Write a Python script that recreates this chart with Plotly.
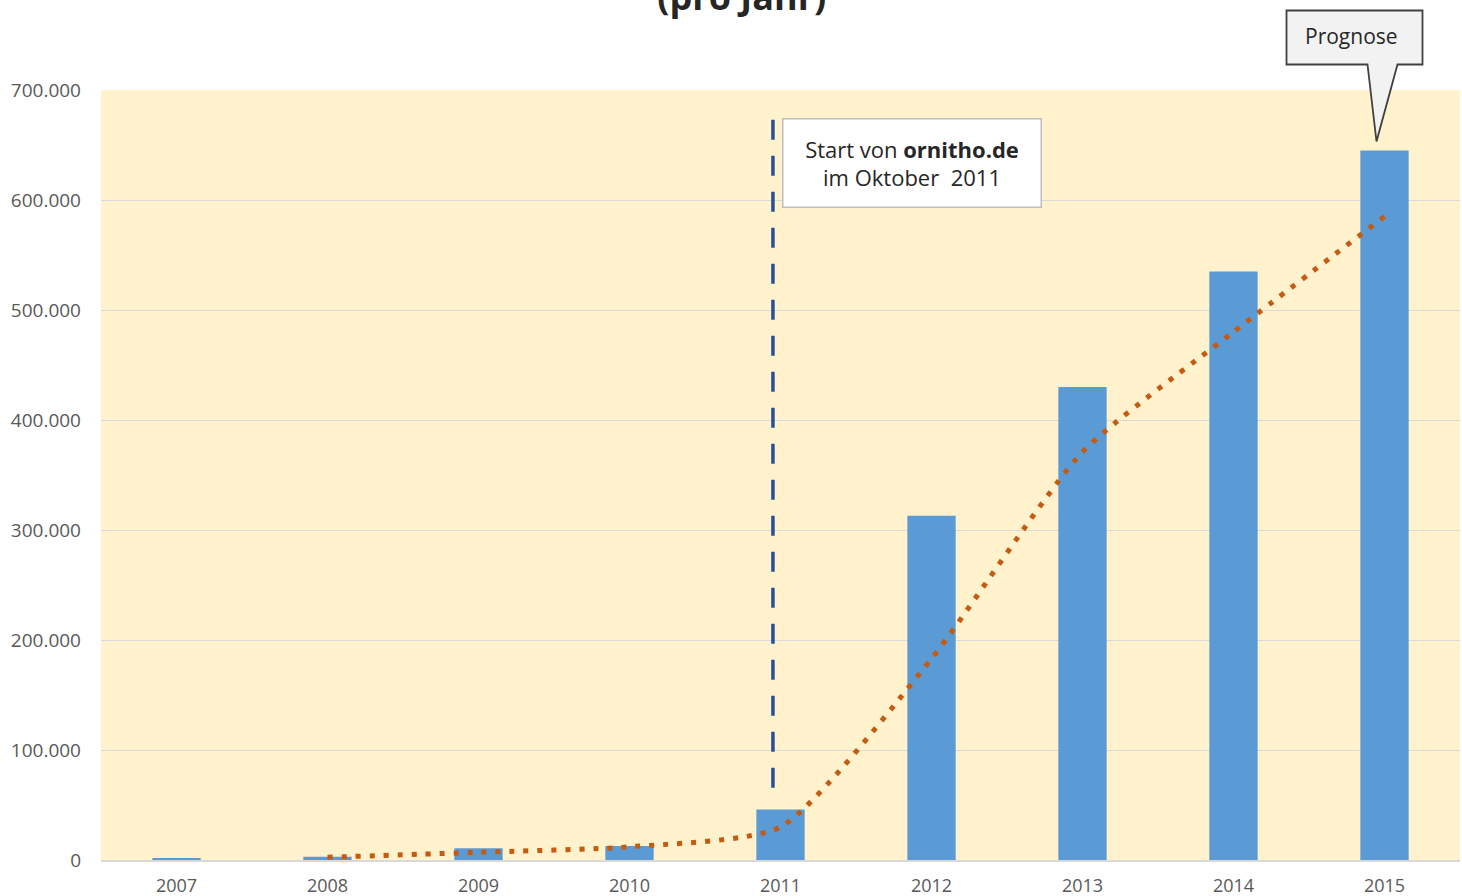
import plotly.graph_objects as go

years = ["2007", "2008", "2009", "2010", "2011", "2012", "2013", "2014", "2015"]
observations = [1500, 3000, 10600, 12700, 46000, 313000, 430000, 535000, 645000]
trend_years = ["2008", "2009", "2010", "2011", "2012", "2013", "2014", "2015"]
trend_values = [2500, 7000, 12000, 30000, 183000, 371000, 480000, 585000]
y_ticks = [0, 100000, 200000, 300000, 400000, 500000, 600000, 700000]

W, H = 1462, 896
ML, MR, MT, MB = 101, 2, 90, 36
PW, PH = W - ML - MR, H - MT - MB
YMAX = 700000
n = len(years)
FONT = "Open Sans"

fig = go.Figure()
fig.add_trace(go.Bar(x=years, y=observations, marker=dict(color="#5B9BD5", line=dict(width=0)),
                     width=0.32, showlegend=False))
fig.add_trace(go.Scatter(x=trend_years, y=trend_values, mode="lines",
                         line=dict(color="#C55A11", width=5, dash="5px,9px", shape="spline", smoothing=0.6),
                         showlegend=False))

# vertical dashed marker (start of ornitho.de, Oct 2011)
i2011 = years.index("2011")
fig.add_shape(type="line", xref="x", yref="y", x0=i2011 - 0.05, x1=i2011 - 0.05, y0=673000, y1=62000,
              line=dict(color="#2A4F97", width=3.5, dash="20px,16px"))

fig.add_annotation(xref="x", yref="y", x=i2011 + 0.874, y=634000,
                   text="Start von <b>ornitho.de</b><br>im Oktober \u00a02011",
                   showarrow=False, bgcolor="white", bordercolor="#BFBFBF", borderwidth=1.5,
                   borderpad=1, width=255, height=85, align="center",
                   xanchor="center", yanchor="middle",
                   font=dict(family=FONT, size=22, color="#262626"))

# Prognose callout anchored on the 2015 bar
i2015 = years.index("2015")
ax = (i2015 + 0.5) / n
ay = observations[i2015] / YMAX + 9 / PH
path = "M -17,77 L -8,0 L 13,77 L 38,77 L 38,131 L -98,131 L -98,77 Z"
fig.add_shape(type="path", xref="paper", yref="paper", xsizemode="pixel", ysizemode="pixel",
              xanchor=ax, yanchor=ay, path=path, fillcolor="#F2F2F2",
              line=dict(color="#404040", width=1.8), layer="above")
fig.add_annotation(xref="paper", yref="paper", x=ax, y=ay, xshift=-33, yshift=106,
                   xanchor="center", yanchor="middle",
                   text="Prognose", showarrow=False,
                   font=dict(family=FONT, size=21, color="#262626"))

# title (mostly cut off at top)
fig.add_annotation(xref="paper", yref="paper", x=(742 - ML) / PW, y=(MT + PH - 23) / PH,
                   xanchor="center", yanchor="bottom",
                   text="<b>Beobachtungen bei ornitho.de</b><br><b>(pro Jahr)</b>",
                   showarrow=False, font=dict(family=FONT, size=36, color="#262626"))

fig.update_layout(
    width=W, height=H, margin=dict(l=ML, r=MR, t=MT, b=MB, autoexpand=False),
    paper_bgcolor="white", plot_bgcolor="#FFF2CC",
    separators=",.", showlegend=False,
    font=dict(family=FONT, color="#595959"),
)
fig.update_xaxes(type="category", range=[-0.5, n - 0.5], showgrid=False, automargin=False,
                 showline=True, linecolor="#D9D9D9", linewidth=1.5,
                 tickfont=dict(size=18, color="#595959"), ticks="", ticklabelstandoff=9)
fig.update_yaxes(range=[0, YMAX], tickvals=y_ticks, tickformat=",d", automargin=False,
                 showgrid=True, gridcolor="#D9D9D9", gridwidth=1.3, zeroline=False,
                 tickfont=dict(size=19, color="#595959"), ticks="", ticklabelstandoff=19)

# remove the browser's default 8px body margin so the figure fills the window exactly
fig.write_html("out.html", config={"displayModeBar": False},
               post_script="document.body.style.margin='0px';")
